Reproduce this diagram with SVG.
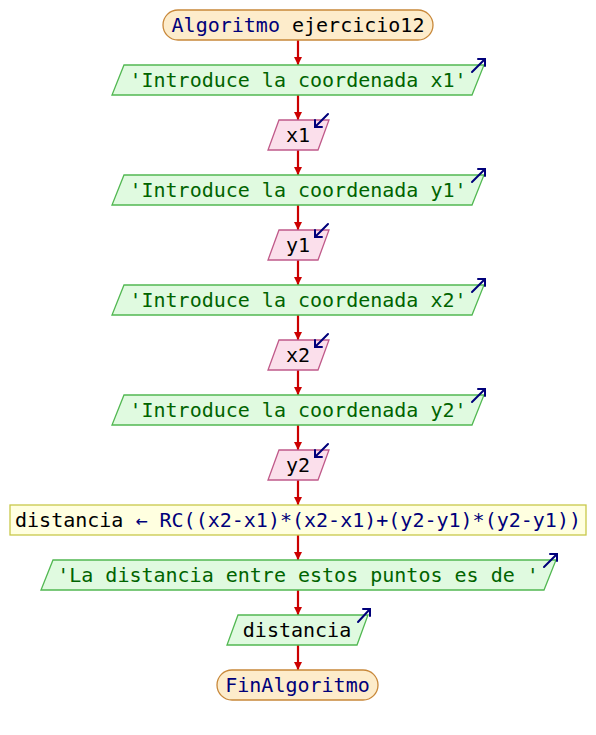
<svg xmlns="http://www.w3.org/2000/svg" width="596" height="735" viewBox="0 0 596 735">
<style>
text{font-family:"DejaVu Sans Mono","Liberation Mono",monospace;font-size:20px;text-anchor:middle;dominant-baseline:central}
.term{fill:#fdeccb;stroke:#c8883a;stroke-width:1.3}
.out{fill:#e0fae0;stroke:#52b852;stroke-width:1.3}
.in{fill:#fbdfeb;stroke:#c05a8a;stroke-width:1.3}
.asg{fill:#ffffe0;stroke:#c8c84a;stroke-width:1.3}
.kw{fill:#00007a}
.str{fill:#006400}
.blk{fill:#000000}
.icon{fill:none;stroke:#00007a;stroke-width:2;stroke-linecap:round}
.conn line{stroke:#cc0000;stroke-width:2.2;marker-end:url(#ah)}
</style>
<defs>
<marker id="ah" viewBox="0 0 10 10" refX="10" refY="5" markerWidth="8" markerHeight="11" orient="auto" markerUnits="userSpaceOnUse">
<path d="M0,0 L10,5 L0,10 z" fill="#cc0000"/>
</marker>
</defs>
<rect width="596" height="735" fill="#ffffff"/>
<g id="connectors" class="conn">
<line x1="298" y1="40" x2="298" y2="65"/>
<line x1="298" y1="95" x2="298" y2="120"/>
<line x1="298" y1="150" x2="298" y2="175"/>
<line x1="298" y1="205" x2="298" y2="230"/>
<line x1="298" y1="260" x2="298" y2="285"/>
<line x1="298" y1="315" x2="298" y2="340"/>
<line x1="298" y1="370" x2="298" y2="395"/>
<line x1="298" y1="425" x2="298" y2="450"/>
<line x1="298" y1="480" x2="298" y2="505"/>
<line x1="298" y1="535" x2="298" y2="560"/>
<line x1="298" y1="590" x2="298" y2="615"/>
<line x1="298" y1="645" x2="298" y2="670"/>
</g>
<g id="start">
<rect class="term" x="163" y="10" width="270" height="30" rx="15"/>
<text x="298" y="25"><tspan class="kw">Algoritmo</tspan><tspan class="blk"> ejercicio12</tspan></text>
</g>
<g id="out1">
<polygon class="out" points="124,65 484,65 472,95 112,95"/>
<text class="str" x="298" y="80">'Introduce la coordenada x1'</text>
<path class="icon" d="M472,72 L485,59 M478,59 L485,59 L485,66"/>
</g>
<g id="in1">
<polygon class="in" points="279,120 329,120 318,150 268,150"/>
<text class="blk" x="298" y="135">x1</text>
<path class="icon" d="M328,114 L315,127 M322,127 L315,127 L315,120"/>
</g>
<g id="out2">
<polygon class="out" points="124,175 484,175 472,205 112,205"/>
<text class="str" x="298" y="190">'Introduce la coordenada y1'</text>
<path class="icon" d="M472,182 L485,169 M478,169 L485,169 L485,176"/>
</g>
<g id="in2">
<polygon class="in" points="279,230 329,230 318,260 268,260"/>
<text class="blk" x="298" y="245">y1</text>
<path class="icon" d="M328,224 L315,237 M322,237 L315,237 L315,230"/>
</g>
<g id="out3">
<polygon class="out" points="124,285 484,285 472,315 112,315"/>
<text class="str" x="298" y="300">'Introduce la coordenada x2'</text>
<path class="icon" d="M472,292 L485,279 M478,279 L485,279 L485,286"/>
</g>
<g id="in3">
<polygon class="in" points="279,340 329,340 318,370 268,370"/>
<text class="blk" x="298" y="355">x2</text>
<path class="icon" d="M328,334 L315,347 M322,347 L315,347 L315,340"/>
</g>
<g id="out4">
<polygon class="out" points="124,395 484,395 472,425 112,425"/>
<text class="str" x="298" y="410">'Introduce la coordenada y2'</text>
<path class="icon" d="M472,402 L485,389 M478,389 L485,389 L485,396"/>
</g>
<g id="in4">
<polygon class="in" points="279,450 329,450 318,480 268,480"/>
<text class="blk" x="298" y="465">y2</text>
<path class="icon" d="M328,444 L315,457 M322,457 L315,457 L315,450"/>
</g>
<g id="assign">
<rect class="asg" x="10" y="505" width="576" height="30"/>
<text x="298" y="520"><tspan class="blk">distancia</tspan><tspan class="kw"> ← RC((x2-x1)*(x2-x1)+(y2-y1)*(y2-y1))</tspan></text>
</g>
<g id="out5">
<polygon class="out" points="53,560 556,560 544,590 41,590"/>
<text class="str" x="298" y="575" xml:space="preserve">'La distancia entre estos puntos es de '</text>
<path class="icon" d="M544,567 L557,554 M550,554 L557,554 L557,561"/>
</g>
<g id="out6">
<polygon class="out" points="238,615 368,615 357,645 227,645"/>
<text class="blk" x="297" y="630">distancia</text>
<path class="icon" d="M358,622 L370,609 M363,609 L370,609 L370,616"/>
</g>
<g id="end">
<rect class="term" x="217" y="670" width="161" height="30" rx="15"/>
<text class="kw" x="297.5" y="685">FinAlgoritmo</text>
</g>
</svg>
